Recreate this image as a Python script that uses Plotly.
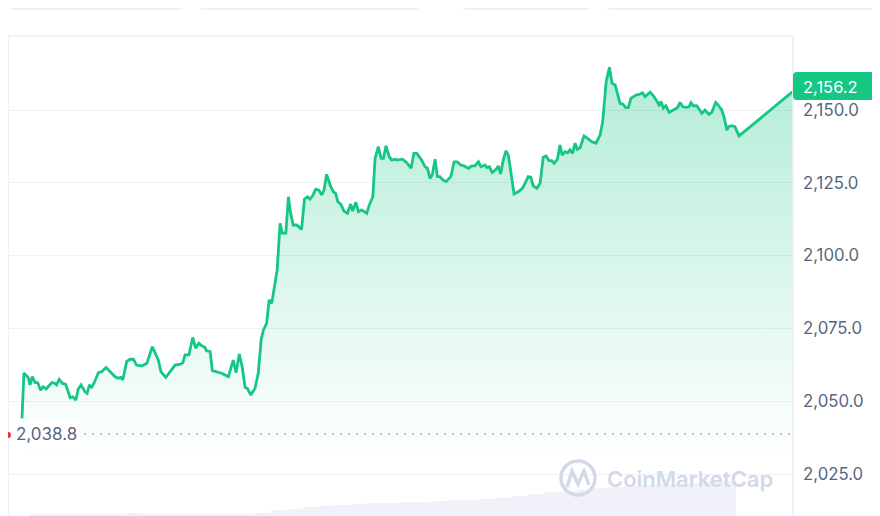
import plotly.graph_objects as go

# ---------------- data ----------------
time_h = [0.00, 0.06, 0.20, 0.25, 0.32, 0.41, 0.49, 0.58, 0.66, 0.75,
          0.93, 1.03, 1.08, 1.16, 1.26, 1.36, 1.50, 1.58, 1.68, 1.75,
          1.84, 1.96, 2.03, 2.10, 2.17, 2.24, 2.38, 2.48, 2.62, 2.74,
          2.90, 3.00, 3.08, 3.14, 3.26, 3.36, 3.47, 3.57, 3.73, 3.89,
          4.06, 4.25, 4.33, 4.48, 4.61, 4.77, 4.94, 5.01, 5.08, 5.20,
          5.32, 5.41, 5.51, 5.60, 5.70, 5.75, 5.86, 5.93, 6.07, 6.22,
          6.43, 6.58, 6.67, 6.77, 6.86, 6.95, 7.02, 7.13, 7.26, 7.36,
          7.45, 7.52, 7.62, 7.70, 7.78, 7.88, 7.95, 8.04, 8.11, 8.22,
          8.30, 8.37, 8.45, 8.56, 8.71, 8.80, 8.89, 8.97, 9.06, 9.15,
          9.25, 9.34, 9.41, 9.49, 9.60, 9.70, 9.77, 9.84, 9.93, 10.03,
          10.14, 10.24, 10.30, 10.40, 10.48, 10.58, 10.74, 10.82, 10.93, 11.00,
          11.10, 11.19, 11.26, 11.34, 11.44, 11.52, 11.62, 11.69, 11.86, 12.00,
          12.12, 12.21, 12.30, 12.45, 12.56, 12.63, 12.71, 12.78, 12.87, 12.94,
          13.02, 13.11, 13.21, 13.36, 13.46, 13.56, 13.67, 13.77, 13.91, 14.01,
          14.11, 14.22, 14.30, 14.43, 14.48, 14.56, 14.65, 14.77, 14.84, 14.91,
          15.00, 15.08, 15.15, 15.23, 15.33, 15.46, 15.59, 15.67, 15.77, 15.85,
          15.93, 16.04, 16.14, 16.24, 16.33, 16.42, 16.50, 16.58, 16.68, 16.76,
          16.83, 16.92, 17.00, 17.07, 17.15, 17.23, 17.30, 17.39, 17.51, 17.61,
          17.75, 17.88, 18.01, 18.09, 18.20, 18.30, 18.38, 18.48, 18.55, 18.63,
          18.72, 18.81, 18.89, 18.97, 19.05, 19.15, 19.25, 19.33, 19.41, 19.57,
          19.69, 19.78, 19.85, 19.91, 19.98, 20.06, 20.16, 20.29, 20.42, 20.50,
          20.59, 20.71, 20.78, 20.84, 20.92, 21.02, 21.10, 21.18, 21.28, 21.40,
          21.49, 21.61, 21.69, 21.80, 21.87, 21.96, 22.01, 22.11, 22.21, 22.34,
          24.00]

price = [2044.1, 2059.7, 2058.0, 2055.6, 2058.4, 2056.4, 2056.4, 2053.8, 2055.0, 2054.2,
         2056.4, 2056.1, 2055.6, 2057.5, 2056.1, 2055.8, 2051.2, 2051.5, 2050.4, 2054.1,
         2055.6, 2053.3, 2052.7, 2055.6, 2054.8, 2056.1, 2059.8, 2060.1, 2061.6, 2060.1,
         2058.4, 2057.9, 2058.2, 2057.3, 2063.6, 2064.4, 2064.4, 2062.4, 2062.1, 2063.0,
         2068.7, 2064.1, 2060.1, 2058.2, 2060.1, 2062.4, 2062.7, 2063.2, 2065.9, 2065.9,
         2071.9, 2068.2, 2069.9, 2069.0, 2068.5, 2067.3, 2067.0, 2060.5, 2060.1, 2059.6,
         2058.4, 2064.1, 2059.8, 2066.2, 2061.8, 2054.8, 2054.4, 2052.1, 2054.5, 2059.6,
         2071.0, 2074.4, 2076.7, 2084.8, 2083.6, 2090.5, 2095.1, 2111.1, 2107.7, 2107.7,
         2120.2, 2114.5, 2110.5, 2110.5, 2109.0, 2119.4, 2120.2, 2119.4, 2120.6, 2122.8,
         2122.5, 2120.8, 2122.5, 2127.9, 2124.2, 2121.9, 2121.4, 2118.5, 2117.7, 2115.3,
         2114.5, 2117.7, 2115.3, 2118.3, 2115.1, 2115.7, 2114.5, 2117.4, 2120.2, 2133.4,
         2137.4, 2133.4, 2133.4, 2137.7, 2134.0, 2132.8, 2133.1, 2132.8, 2133.1, 2131.7,
         2130.0, 2135.1, 2135.1, 2132.8, 2130.5, 2130.0, 2126.5, 2127.7, 2133.1, 2127.1,
         2127.1, 2126.0, 2125.4, 2127.1, 2132.2, 2132.2, 2131.1, 2130.8, 2130.0, 2130.8,
         2130.8, 2132.2, 2130.5, 2131.1, 2130.2, 2130.5, 2128.5, 2129.6, 2130.8, 2128.0,
         2133.1, 2136.0, 2134.5, 2128.8, 2121.2, 2121.9, 2123.1, 2124.8, 2127.1, 2126.9,
         2123.9, 2123.1, 2124.8, 2133.8, 2134.2, 2132.6, 2132.6, 2131.7, 2133.1, 2138.0,
         2134.5, 2135.7, 2135.3, 2136.3, 2135.1, 2138.6, 2136.5, 2137.1, 2141.1, 2140.3,
         2139.1, 2138.6, 2141.4, 2146.0, 2159.7, 2164.7, 2159.2, 2158.6, 2155.7, 2152.3,
         2152.0, 2150.8, 2150.8, 2154.0, 2154.6, 2155.2, 2155.4, 2155.9, 2154.6, 2156.1,
         2154.6, 2152.9, 2151.7, 2152.9, 2150.6, 2151.5, 2149.2, 2150.0, 2150.8, 2152.6,
         2151.1, 2150.9, 2151.1, 2152.5, 2151.4, 2151.5, 2150.0, 2148.9, 2150.0, 2148.5,
         2149.2, 2152.6, 2151.7, 2150.0, 2147.7, 2143.1, 2144.3, 2144.6, 2144.3, 2141.1,
         2156.2]

vol_time = [0.5, 1.0, 1.5, 2.0, 2.5, 3.0, 3.5, 4.0, 4.5, 5.0,
            5.5, 6.0, 6.5, 7.0, 7.5, 8.0, 8.5, 9.0, 9.5, 10.0,
            10.5, 11.0, 11.5, 12.0, 12.5, 13.0, 13.5, 14.0, 14.5, 15.0,
            15.5, 16.0, 16.5, 17.0, 17.5, 18.0, 18.5, 19.0, 19.5, 20.0,
            20.5, 21.0, 21.5, 22.0]
volume = [2, 2, 2, 2, 2, 2, 3, 1.5, 1.5, 1.5,
          2, 2, 2, 2, 3, 6, 7.5, 9, 10.5, 11.5,
          12.5, 13, 13.5, 14, 14.5, 15, 16, 16.5, 17.5, 18.5,
          20, 22, 24, 25, 26.5, 28, 29, 30, 31, 32,
          32.5, 33, 34, 35]

tick_vals = [2025, 2050, 2075, 2100, 2125, 2150]
tick_text = ["2,025.0", "2,050.0", "2,075.0", "2,100.0", "2,125.0", "2,150.0"]
open_price = 2038.8
last_price = 2156.2
open_label = "2,038.8"
last_label = "2,156.2"
watermark = "CoinMarketCap"

# ---------------- layout helpers ----------------
# The page body has an 8px margin, so the figure starts at screen (8, 8).
W, H = 880, 516
ML, MR, MT, MB = 0, 95, 28, 8
PW = W - ML - MR          # 785 : screen x 8 .. 793
PH = H - MT - MB          # 480 : screen y 36 .. 516

GREEN = "#16c784"
GREY_TXT = "#58667e"
WM = "#d3d9e6"


def px(x):
    """screen x -> paper x"""
    return (x - 8) / PW


def py(y):
    """screen y -> paper y"""
    return (516 - y) / PH


def rrect(x0, y0, x1, y1, r):
    pts = [
        ("M", (x0 + r, y0)), ("L", (x1 - r, y0)), ("Q", (x1, y0), (x1, y0 + r)),
        ("L", (x1, y1 - r)), ("Q", (x1, y1), (x1 - r, y1)), ("L", (x0 + r, y1)),
        ("Q", (x0, y1), (x0, y1 - r)), ("L", (x0, y0 + r)), ("Q", (x0, y0), (x0 + r, y0)),
    ]
    s = ""
    for item in pts:
        cmd = item[0]
        coords = " ".join(f"{px(a):.5f},{py(b):.5f}" for a, b in item[1:])
        s += f"{cmd} {coords} "
    return s + "Z"


fig = go.Figure()

fig.add_trace(go.Bar(
    x=vol_time, y=volume, width=0.5, yaxis="y2",
    marker=dict(color="#f0f1f9", line=dict(width=0)),
    hoverinfo="skip", showlegend=False,
))

fig.add_trace(go.Scatter(
    x=time_h, y=price, mode="lines",
    line=dict(color=GREEN, width=2.8),
    fill="tozeroy",
    fillgradient=dict(
        type="vertical",
        colorscale=[[0, "rgba(22,199,132,0.0)"], [1, "rgba(22,199,132,0.33)"]],
        start=2030, stop=2165,
    ),
    showlegend=False,
))

shapes = []
# top tabs
for (a, b) in [(8, 185), (198, 421), (460, 592), (604, 877)]:
    shapes.append(dict(type="path", path=rrect(a, -12, b, 10, 7), xref="paper", yref="paper",
                       fillcolor="#eff2f5", line=dict(width=0), layer="above"))
for (a, b) in [(12, 81), (201, 254), (609, 667)]:
    shapes.append(dict(type="path", path=rrect(a, -12, b, 7, 6), xref="paper", yref="paper",
                       fillcolor="#ffffff", line=dict(width=0), layer="above"))
# chart frame
shapes.append(dict(type="rect", xref="paper", yref="paper", x0=0, x1=1, y0=-0.05, y1=1,
                   line=dict(color="#eaedf1", width=1.5), fillcolor="rgba(0,0,0,0)", layer="above"))
# open-price dotted line
shapes.append(dict(type="line", xref="paper", yref="y", x0=px(84), x1=1, y0=open_price, y1=open_price,
                   line=dict(color="#a6b0c3", width=1.5, dash="2px,6px"), layer="above"))
# red open marker
shapes.append(dict(type="circle", xref="paper", yref="paper", x0=px(6), x1=px(11), y0=py(438), y1=py(432),
                   fillcolor="#ea3943", line=dict(width=0), layer="above"))
# price badge
shapes.append(dict(type="path", path=rrect(793, 72, 875, 100, 4), xref="paper", yref="paper",
                   fillcolor=GREEN, line=dict(width=0), layer="above"))
# watermark logo
shapes.append(dict(type="circle", xref="paper", yref="paper", x0=px(561), x1=px(595), y0=py(495), y1=py(461),
                   line=dict(color=WM, width=3.5), fillcolor="rgba(0,0,0,0)", layer="above"))
logo_path = "M {} L {} L {} L {} L {}".format(
    f"{px(567):.5f},{py(487):.5f}", f"{px(572):.5f},{py(471):.5f}", f"{px(578):.5f},{py(484):.5f}",
    f"{px(584):.5f},{py(471):.5f}", f"{px(589):.5f},{py(485):.5f}")
shapes.append(dict(type="path", path=logo_path, xref="paper", yref="paper",
                   line=dict(color=WM, width=3.5), layer="above"))

annotations = [
    dict(x=px(830), y=py(87), xref="paper", yref="paper", text=last_label, showarrow=False,
         xanchor="center", yanchor="middle", font=dict(family="Inter", size=16.5, color="#ffffff")),
    dict(x=px(12), y=open_price, xref="paper", yref="y", text=open_label, showarrow=False,
         xanchor="left", yanchor="middle", bgcolor="#ffffff", borderpad=3,
         font=dict(family="Inter", size=17, color=GREY_TXT)),
    dict(x=px(605), y=py(479), xref="paper", yref="paper", text=watermark, showarrow=False,
         xanchor="left", yanchor="middle", font=dict(family="Inter", size=22, color=WM, weight=600)),
]

fig.update_layout(
    width=W, height=H,
    margin=dict(l=ML, r=MR, t=MT, b=MB, pad=0),
    paper_bgcolor="#ffffff", plot_bgcolor="#ffffff",
    showlegend=False, bargap=0,
    font=dict(family="Inter", size=16, color=GREY_TXT),
    xaxis=dict(visible=False, range=[-0.436, 24.02], fixedrange=True),
    yaxis=dict(side="right", range=[2010.58, 2175.41], tickvals=tick_vals, ticktext=tick_text,
               showgrid=True, gridcolor="#eef0f3", gridwidth=1, zeroline=False, showline=False,
               ticks="", ticklabelstandoff=9, tickfont=dict(family="Inter", size=16.8, color=GREY_TXT)),
    yaxis2=dict(overlaying="y", range=[0, 480], visible=False, fixedrange=True),
    shapes=shapes,
    annotations=annotations,
)

fig.write_html("out.html")
